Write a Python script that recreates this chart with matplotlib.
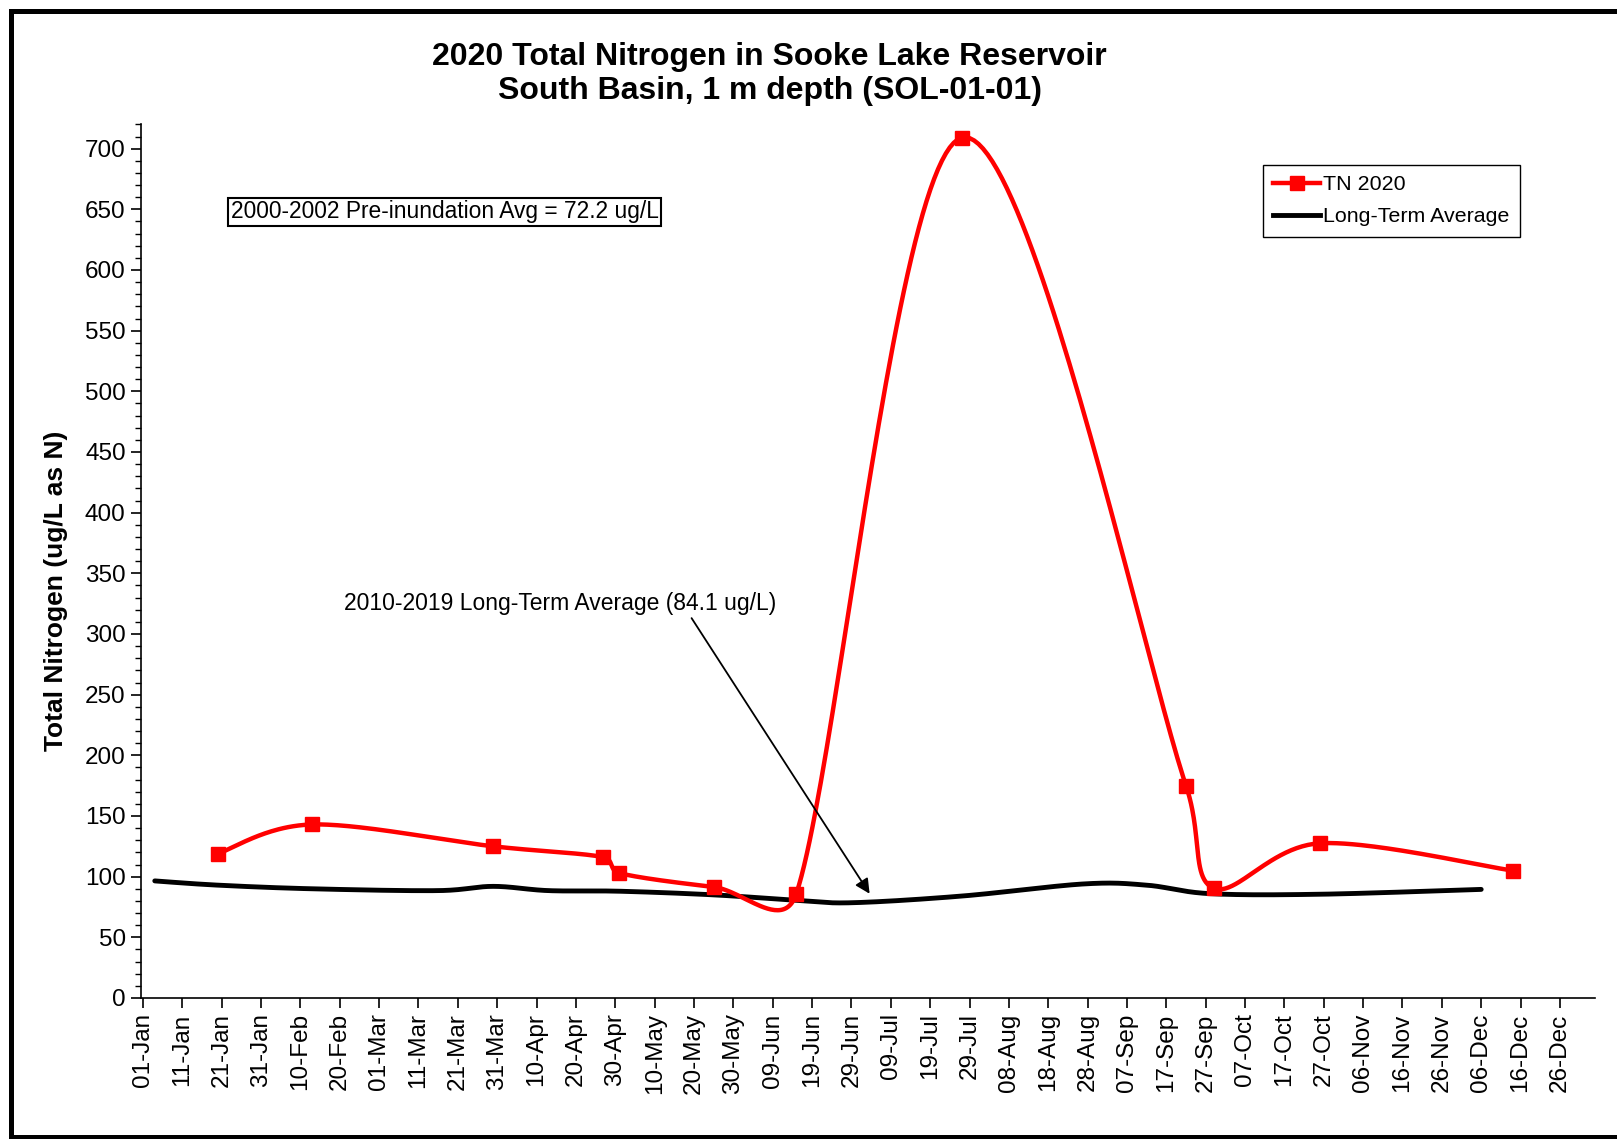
import numpy as np
import matplotlib
matplotlib.use('Agg')
import matplotlib.pyplot as plt
import matplotlib.dates as mdates
from matplotlib.lines import Line2D
from datetime import datetime, timedelta

plt.rcParams['font.family'] = ['Liberation Sans', 'DejaVu Sans']

# TN 2020 sampling dates and values (ug/L)
tn_dates = ['2020-01-20', '2020-02-13', '2020-03-30', '2020-04-27', '2020-05-01',
            '2020-05-25', '2020-06-15', '2020-07-27', '2020-09-22', '2020-09-29',
            '2020-10-26', '2020-12-14']
tn_values = [119, 143, 125, 116, 103, 91.5, 86, 709, 175, 90.5, 127.5, 105]

# 2010-2019 long-term average curve
lta_dates = ['2020-01-04', '2020-01-20', '2020-02-13', '2020-03-16', '2020-03-30',
             '2020-04-13', '2020-05-01', '2020-05-25', '2020-06-15', '2020-06-29',
             '2020-07-27', '2020-08-27', '2020-09-12', '2020-09-28', '2020-10-26',
             '2020-12-06']
lta_values = [96.5, 93, 90, 88.5, 92, 88.5, 88, 85, 80.5, 78.5, 84, 94, 93, 86,
              85.5, 89.5]


def to_num(dates):
    return np.array([mdates.date2num(datetime.strptime(d, '%Y-%m-%d')) for d in dates])


def smooth(ax, x, y, n=50):
    # Excel-like smoothed line, built in screen space: Catmull-Rom arms,
    # capped at half of the neighbouring segment
    p = ax.transData.transform(np.column_stack([x, y]))
    p = np.vstack([p[0], p, p[-1]])
    t = np.linspace(0, 1, n)[:, None]
    out = []
    for i in range(1, len(p) - 2):
        p0, p3 = p[i], p[i + 1]
        seg = np.linalg.norm(p3 - p0)
        d1 = p3 - p[i - 1]
        d2 = p[i + 2] - p0
        a1 = min(np.linalg.norm(d1) / 6, seg / 2)
        a2 = min(np.linalg.norm(d2) / 6, seg / 2)
        b1 = p0 + (d1 / np.linalg.norm(d1) * a1 if np.linalg.norm(d1) > 0 else 0)
        b2 = p3 - (d2 / np.linalg.norm(d2) * a2 if np.linalg.norm(d2) > 0 else 0)
        out.append((1 - t) ** 3 * p0 + 3 * (1 - t) ** 2 * t * b1
                   + 3 * (1 - t) * t ** 2 * b2 + t ** 3 * p3)
    pts = ax.transData.inverted().transform(np.vstack(out))
    return pts[:, 0], pts[:, 1]


tn_x = to_num(tn_dates)
lta_x = to_num(lta_dates)

fig = plt.figure(figsize=(16.17, 11.39), dpi=100)
ax = fig.add_axes([0.0872, 0.1238, 0.8994, 0.767])

# x axis: ticks every 10 days from 01-Jan
start = datetime(2020, 1, 1)
ticks = [mdates.date2num(start + timedelta(days=10 * k)) for k in range(37)]
ax.set_xticks(ticks)
ax.xaxis.set_major_formatter(mdates.DateFormatter('%d-%b'))
ax.set_xlim(mdates.date2num(start) - 0.5, mdates.date2num(datetime(2021, 1, 4)))
ax.set_ylim(0, 720)
ax.set_yticks(np.arange(0, 701, 50))
ax.set_yticks(np.arange(0, 721, 10), minor=True)

sx, sy = smooth(ax, lta_x, lta_values)
ax.plot(sx, sy, color='black', lw=3.5, solid_capstyle='round', zorder=2)
sx, sy = smooth(ax, tn_x, tn_values)
ax.plot(sx, sy, color='red', lw=3.2, zorder=3)
ax.plot(tn_x, tn_values, ls='none', marker='s', ms=9.5, color='red', zorder=4)

for lab in ax.get_xticklabels():
    lab.set_rotation(90)
ax.tick_params(axis='both', which='major', labelsize=17.5, length=7, width=1.2,
               direction='out', pad=4)
ax.tick_params(axis='y', which='minor', length=4, width=1, direction='out')

ax.spines['top'].set_visible(False)
ax.spines['right'].set_visible(False)
ax.spines['left'].set_linewidth(1.2)
ax.spines['bottom'].set_linewidth(1.2)

fig.text(0.476, 0.935, '2020 Total Nitrogen in Sooke Lake Reservoir\nSouth Basin, 1 m depth (SOL-01-01)',
         ha='center', va='center', fontsize=23, fontweight='bold', linespacing=1.2)
fig.text(0.0344, 0.481, 'Total Nitrogen (ug/L as N)', rotation=90, ha='center', va='center',
         fontsize=19, fontweight='bold')

ax.text(0.2087, 0.9, '2000-2002 Pre-inundation Avg = 72.2 ug/L', transform=ax.transAxes,
        ha='center', va='center', fontsize=16.4,
        bbox=dict(boxstyle='square,pad=0.1', facecolor='white', edgecolor='black', linewidth=1.5))

ax.text(mdates.date2num(datetime(2020, 2, 21)), 325, '2010-2019 Long-Term Average (84.1 ug/L)',
        ha='left', va='center', fontsize=16.5)
ax.annotate('', xy=(mdates.date2num(datetime(2020, 7, 4)), 84),
            xytext=(mdates.date2num(datetime(2020, 5, 19)), 315),
            arrowprops=dict(arrowstyle='-|>', color='black', lw=1.3, mutation_scale=22))

handles = [Line2D([], [], color='red', lw=3.2, marker='s', ms=9.5),
           Line2D([], [], color='black', lw=3.5)]
leg = ax.legend(handles, ['TN 2020', 'Long-Term Average'], loc='upper right',
                bbox_to_anchor=(0.948, 0.954), borderaxespad=0, fontsize=15.4,
                fancybox=False, edgecolor='black', framealpha=1,
                handlelength=2.2, handletextpad=0.1, labelspacing=0.6, borderpad=0.5)
leg.get_frame().set_linewidth(1.0)

# outer border (left, top, bottom)
bw = 3.6
fig.add_artist(Line2D([0.0068, 0.0068], [0.0015, 0.99], transform=fig.transFigure,
                      color='black', lw=bw, solid_capstyle='projecting'))
fig.add_artist(Line2D([0.0068, 1.0], [0.99, 0.99], transform=fig.transFigure,
                      color='black', lw=bw, solid_capstyle='projecting'))
fig.add_artist(Line2D([0.0068, 1.0], [0.0015, 0.0015], transform=fig.transFigure,
                      color='black', lw=bw, solid_capstyle='projecting'))

fig.savefig('out.png', dpi=100)
